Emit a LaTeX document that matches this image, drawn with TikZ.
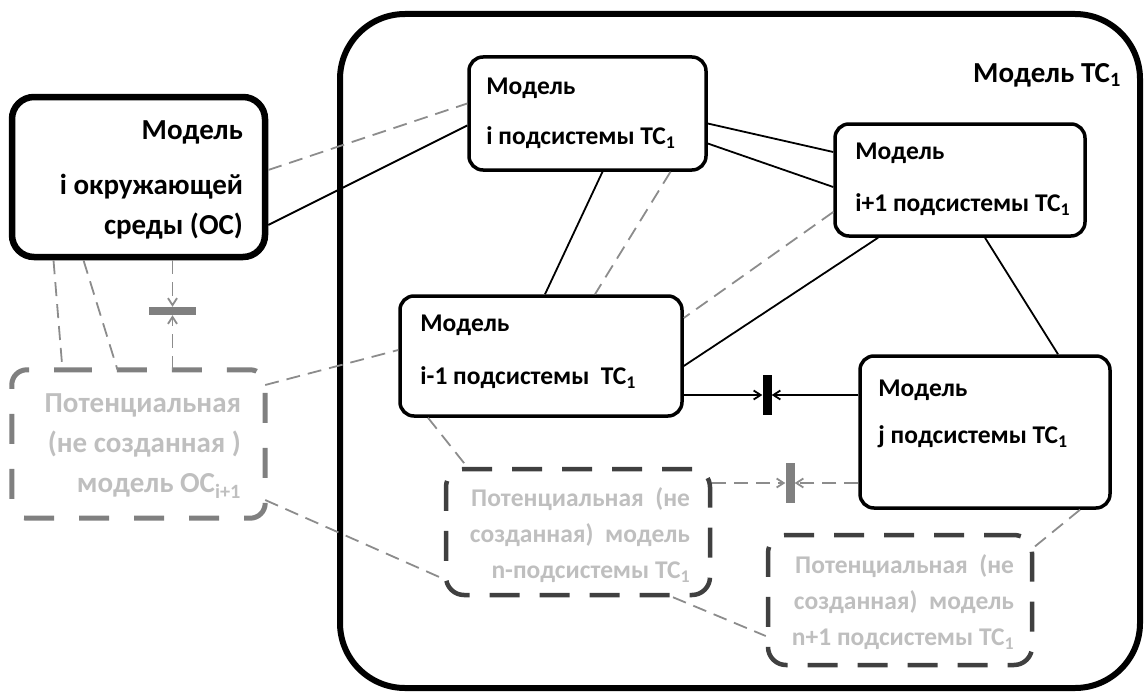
\documentclass[tikz,border=0pt]{standalone}
\usepackage{fontspec}
\setmainfont{Carlito}
\usetikzlibrary{arrows.meta,calc}

\definecolor{lnGray}{RGB}{140,140,140}
\definecolor{txtGray}{RGB}{191,191,191}
\definecolor{brdGray}{RGB}{128,128,128}
\definecolor{brdDark}{RGB}{64,64,64}

\begin{document}
\begin{tikzpicture}[x=1pt,y=1pt,yscale=-1,
  every node/.style={font=\bfseries\fontsize{25.5}{36}\selectfont},
  bigtxt/.style={font=\bfseries\fontsize{29}{40}\selectfont},
  mbox/.style={draw, line width=3.5pt, rounded corners=14pt, inner sep=0pt},
  osbox/.style={draw, line width=6.5pt, rounded corners=22pt, inner sep=0pt},
  potos/.style={draw=brdGray, line width=5pt, rounded corners=15pt, dash pattern=on 30pt off 25pt},
  potn/.style={draw=brdDark, line width=4.5pt, rounded corners=18pt, dash pattern=on 30pt off 20pt, inner sep=0pt},
  txt/.style={inner sep=0pt, align=left},
  gtxt/.style={inner sep=0pt, align=right, text=txtGray},
  lnk/.style={line width=1.8pt},
  dlnk/.style={draw=lnGray, line width=1.8pt, dash pattern=on 14pt off 8pt},
  tip/.style={-{Straight Barb[length=7pt,width=9pt]}},
  barn/.style={inner sep=0pt, fill=#1},
]
\useasboundingbox (0,0) rectangle (1148,693);

% container
\node[draw, line width=6pt, rounded corners=65pt, inner sep=0pt, minimum width=800, minimum height=674] (tc) at (740,351) {};
\node[txt, bigtxt, anchor=north east] (tc-t) at ($(tc.north east)+(-22,52)$) {Модель ТС\textsubscript{1}};

% models
\node[osbox, minimum width=253, minimum height=160] (os) at (138.5,177) {};
\node[mbox, minimum width=237, minimum height=113] (mi) at (587.5,113.5) {};
\node[mbox, minimum width=250, minimum height=112] (mip) at (960,180) {};
\node[mbox, minimum width=282, minimum height=120] (mim) at (541,356) {};
\node[mbox, minimum width=250, minimum height=152] (mj) at (985,432) {};

% potential models
\node[inner sep=0pt, minimum width=253, minimum height=148] (pos) at (138.5,444) {};
\draw[potos] ($(pos.north west)+(35,0)$) -- (pos.north east) -- (pos.south east) -- (pos.south west) -- (pos.north west) -- cycle;
\node[potn, minimum width=264, minimum height=126] (pn) at (578,532) {};
\node[potn, minimum width=264, minimum height=130] (pnp) at (900,600) {};

% texts
\node[txt, bigtxt, align=right, anchor=north east] (os-t) at ($(os.north east)+(-25,27)$) {Модель\\[15pt]i окружающей\\среды (ОС)};
\node[txt, anchor=north west] (mi-t) at ($(mi.north west)+(19,23)$) {Модель\\[14pt]i подсистемы ТС\textsubscript{1}};
\node[txt, anchor=north west] (mip-t) at ($(mip.north west)+(22,21)$) {Модель\\[16pt]i+1 подсистемы ТС\textsubscript{1}};
\node[txt, anchor=north west] (mim-t) at ($(mim.north west)+(22,21)$) {Модель\\[17pt]i-1 подсистемы~ ТС\textsubscript{1}};
\node[txt, anchor=north west] (mj-t) at ($(mj.north west)+(20,26)$) {Модель\\[11pt]j подсистемы ТС\textsubscript{1}};
\node[gtxt, bigtxt, anchor=north east] (pos-t) at ($(pos.north east)+(-24,24)$) {Потенциальная\\(не созданная )\\модель ОС\textsubscript{i+1}};
\node[gtxt, anchor=north east] (pn-t) at ($(pn.north east)+(-22,21)$) {Потенциальная~ (не\\созданная)~ модель\\n-подсистемы ТС\textsubscript{1}};
\node[gtxt, anchor=north east] (pnp-t) at ($(pnp.north east)+(-20,22)$) {Потенциальная~ (не\\созданная)~ модель\\n+1 подсистемы ТС\textsubscript{1}};

% bars
\node[barn=brdGray, minimum width=47, minimum height=8] (bo) at (172.5,311) {};
\node[barn=black, minimum width=9, minimum height=40] (bs) at (767,395) {};
\node[barn=brdGray, minimum width=9, minimum height=40] (bd) at (790,483) {};

% solid links
\draw[lnk] ($(os.east)+(0,48)$) -- ($(mi.west)+(0,12)$);
\draw[lnk] ($(mi.east)+(0,10)$) -- ($(mip.west)+(0,-28)$);
\draw[lnk] ($(mi.east)+(0,30)$) -- ($(mip.west)+(0,7)$);
\draw[lnk] ($(mi.south)+(15,0)$) -- ($(mim.north)+(4,0)$);
\draw[lnk] ($(mip.south)+(-82,0)$) -- ($(mim.east)+(0,10)$);
\draw[lnk] ($(mip.south)+(25,0)$) -- ($(mj.north)+(73,0)$);

% dashed links
\draw[dlnk] ($(os.east)+(0,-7)$) -- ($(mi.west)+(0,-10)$);
\draw[dlnk] ($(mi.south)+(83,0)$) -- ($(mim.north)+(54,0)$);
\draw[dlnk] ($(mip.west)+(0,32)$) -- ($(mim.east)+(0,-38)$);
\draw[dlnk] ($(pos.east)+(0,-59)$) -- ($(mim.west)+(0,-6)$);
\draw[dlnk] ($(pos.east)+(0,56)$) -- ($(pn.west)+(0,47)$);
\draw[dlnk] ($(mim.south)+(-113,0)$) -- ($(pn.north)+(-111,0)$);
\draw[dlnk] ($(mj.south)+(95,0)$) -- ($(pnp.east)+(0,-53)$);
\draw[dlnk] ($(pn.south)+(95,0)$) -- ($(pnp.west)+(0,36)$);
\draw[dlnk] ($(os.south)+(-85,0)$) -- ($(pos.north)+(-76,0)$);
\draw[dlnk] ($(os.south)+(-55,0)$) -- ($(pos.north)+(-21,0)$);

% arrows to bars
\draw[dlnk,tip] ($(os.south)+(34,0)$) -- (bo.north);
\draw[dlnk,tip] ($(pos.north)+(34,0)$) -- (bo.south);
\draw[lnk,tip] ($(mim.east)+(0,39)$) -- (bs.west);
\draw[lnk,tip] ($(mj.west)+(0,-37)$) -- (bs.east);
\draw[dlnk,tip] ($(pn.east)+(0,-49)$) -- (bd.west);
\draw[dlnk,tip] ($(mj.west)+(0,51)$) -- (bd.east);

\end{tikzpicture}
\end{document}
